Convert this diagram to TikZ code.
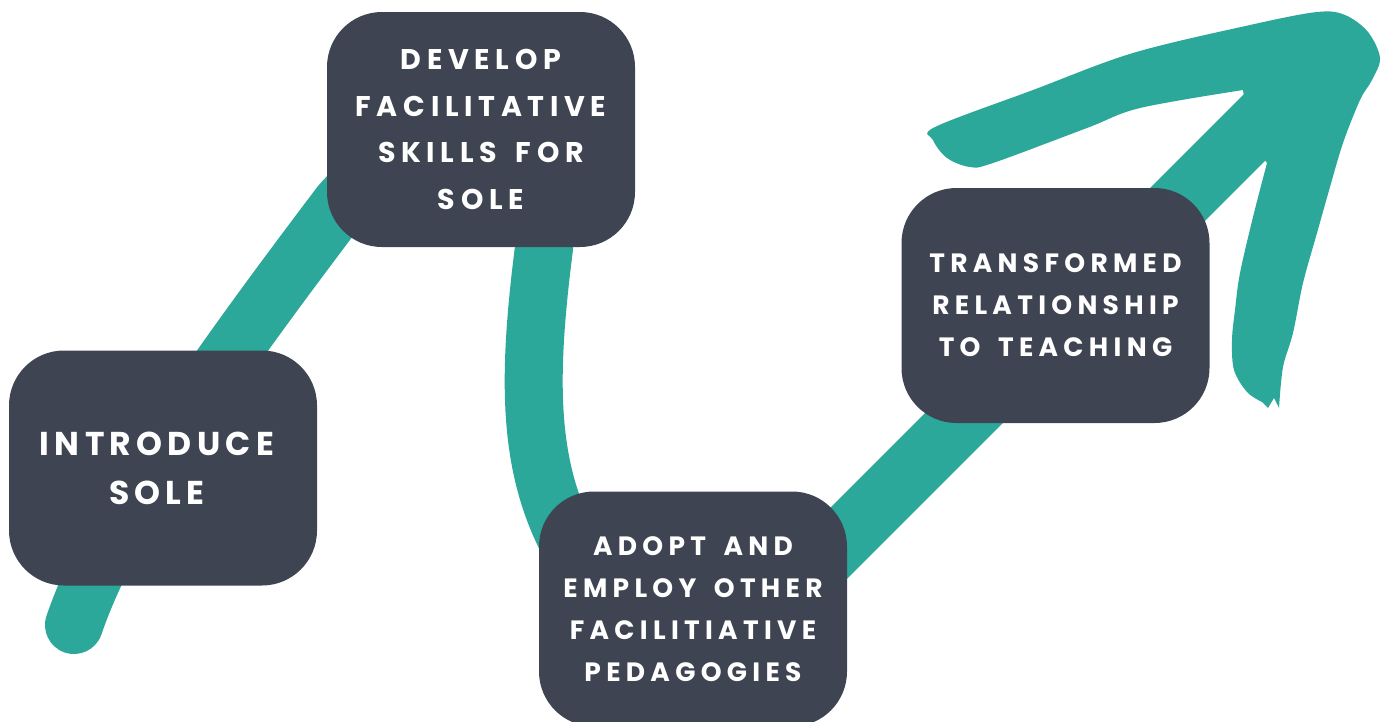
\documentclass[tikz,border=0pt]{standalone}
\usepackage{fontspec}
\newfontfamily\boxfont{Poppins}[LetterSpace=16, WordSpace=1.3]
\newfontfamily\boxfontwide{Poppins}[LetterSpace=20, WordSpace=1.6]
\definecolor{brush}{HTML}{2BA89A}
\definecolor{slate}{HTML}{3E4451}
\begin{document}
\begin{tikzpicture}[x=1pt,y=-1pt,
  stepbox/.style={fill=slate, rounded corners=55pt, minimum width=308pt,
    minimum height=235pt, text=white, align=center, inner sep=0pt},
  stroke/.style={draw=brush, line width=58pt}]
\useasboundingbox (0,0) rectangle (1382,721);
\clip (0,0) rectangle (1382,721);

% winding brush stroke (runs underneath the boxes)
\draw[stroke, line cap=round]
  (74,625) .. controls (110,520) and (200,390) .. (340,205)
           .. controls (420,110) and (548,150) .. (544,248)
           .. controls (522,420) and (530,515) .. (620,615)
           .. controls (660,660) and (720,660) .. (780,602);
% straight rising shaft towards the head
\draw[draw=brush, line width=62pt] (770,612) -- (1290,92);

% brushed arrow head
\fill[brush] (1243,90)
  -- plot[smooth, tension=0.55] coordinates {(1243,90) (1140,108) (1087,128)
     (993,163) (970,167) (947,158) (933,140) (935,127) (1033,90) (1133,53)
     (1250,25) (1317,12) (1345,15) (1368,32) (1380,58) (1372,80) (1360,100)
     (1343,143) (1330,187) (1317,233) (1303,283) (1293,333) (1283,367) (1279,408)}
  -- (1274,398) -- (1268,408) -- (1262,402)
  -- plot[smooth, tension=0.55] coordinates {(1262,402) (1247,392) (1234,370)
     (1232,340) (1235,310) (1240,273) (1253,217) (1267,163)}
  -- (1250,140) -- cycle;

% the four steps
\node[stepbox, font=\boxfont\bfseries\fontsize{33}{49}\selectfont]
  (intro) at (163,468) {\hspace*{-12pt}INTRODUCE\\\hspace*{-12pt}SOLE};
\node[stepbox, font=\boxfontwide\bfseries\fontsize{28.5}{46.5}\selectfont]
  (develop) at (481,129.5) {DEVELOP\\FACILITATIVE\\SKILLS FOR\\SOLE};
\node[stepbox, font=\boxfontwide\bfseries\fontsize{26.5}{42}\selectfont]
  (adopt) at (693,609) {ADOPT AND\\EMPLOY OTHER\\FACILITIATIVE\\PEDAGOGIES};
\node[stepbox, font=\boxfontwide\bfseries\fontsize{26.5}{42}\selectfont]
  (transform) at (1055.5,305.5) {TRANSFORMED\\RELATIONSHIP\\TO TEACHING};
\end{tikzpicture}
\end{document}
